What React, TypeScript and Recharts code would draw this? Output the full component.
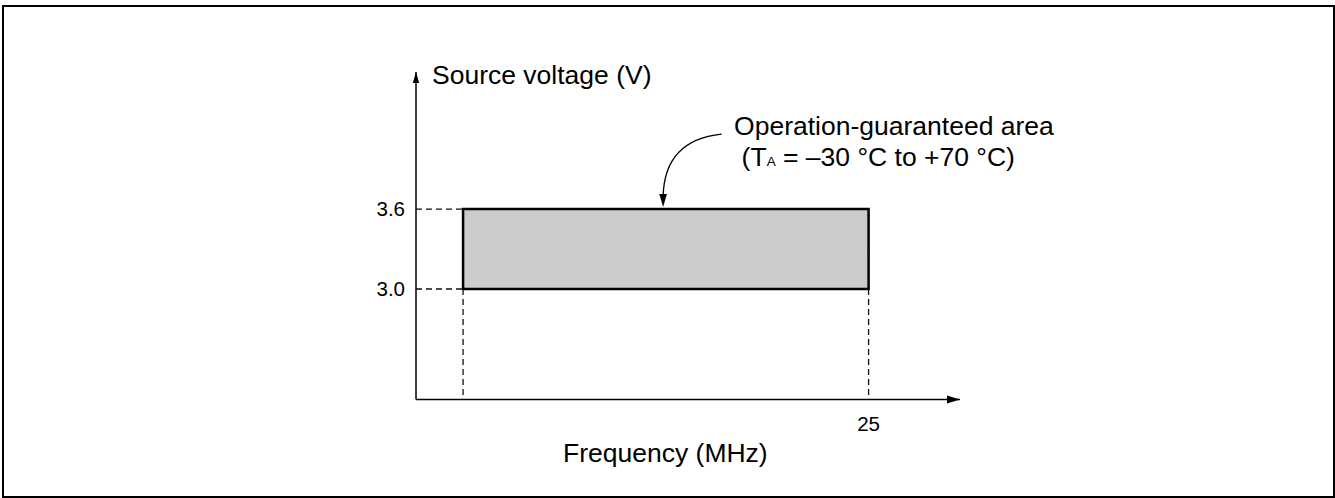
import {
  ComposedChart,
  Label,
  ReferenceArea,
  ReferenceLine,
  Scatter,
  XAxis,
  YAxis,
} from "recharts";

// axis ranges (frequency in MHz, source voltage in V)
const freqRange = [0, 30.05];
const voltRange = [2.17, 4.63];
const freqTicks = [25];
const voltTicks = [3.0, 3.6];

// operation-guaranteed area
const guaranteedFreq = [2.6, 25];
const guaranteedVolt = [3.0, 3.6];

// arrow tips at the ends of the axes
const xArrowTip = [{ f: 30.05, v: 2.17 }];
const yArrowTip = [{ f: 0, v: 4.63 }];

const FONT = '"Liberation Sans", Arial, Helvetica, sans-serif';
const INK = "#000";

const RightArrow = ({ cx, cy }: any) => (
  <polygon points={`${cx},${cy} ${cx - 13},${cy - 4} ${cx - 13},${cy + 4}`} fill={INK} />
);

const UpArrow = ({ cx, cy }: any) => (
  <polygon points={`${cx},${cy} ${cx - 3.2},${cy + 11} ${cx + 3.2},${cy + 11}`} fill={INK} />
);

const FreqLabel = ({ viewBox }: any) => {
  const { x, y } = viewBox;
  return (
    <text x={x + 147} y={y + 62} fontSize={26.5} fontFamily={FONT} fill={INK}>
      Frequency (MHz)
    </text>
  );
};

const VoltLabel = ({ viewBox }: any) => {
  const { x, y, width } = viewBox;
  return (
    <text x={x + width + 16} y={y + 12} fontSize={26.5} fontFamily={FONT} fill={INK}>
      Source voltage (V)
    </text>
  );
};

const Annotation = ({ viewBox }: any) => {
  const { x, y, width } = viewBox;
  const tipX = x + width / 2 - 2.7;
  const tipY = y - 2;
  const sx = tipX + 58.5;
  const sy = y - 75;
  return (
    <g>
      <path
        d={`M${sx},${sy} C${tipX + 20},${sy + 4} ${tipX + 1},${y - 50} ${tipX},${tipY - 11}`}
        fill="none"
        stroke={INK}
        strokeWidth={1.3}
      />
      <polygon points={`${tipX},${tipY} ${tipX - 3.8},${tipY - 13} ${tipX + 3.8},${tipY - 13}`} fill={INK} />
      <text x={tipX + 71} y={y - 74} fontSize={26.5} fontFamily={FONT} fill={INK}>
        Operation-guaranteed area
      </text>
      <text x={tipX + 78.5} y={y - 43} fontSize={26.5} fontFamily={FONT} fill={INK}>
        (T<tspan fontSize={13.5}>A</tspan> = –30 °C to +70 °C)
      </text>
    </g>
  );
};

export default function App() {
  const dash = { stroke: "#111", strokeWidth: 1.3, strokeDasharray: "6 4" };
  return (
    <div style={{ position: "absolute", left: 0, top: 0, width: 1335, height: 498, background: "#fff" }}>
      <div
        style={{
          position: "absolute",
          left: 2,
          top: 5,
          width: 1333,
          height: 493,
          boxSizing: "border-box",
          border: "2px solid #000",
        }}
      />
      <div style={{ position: "absolute", left: 0, top: 0 }}>
        <ComposedChart
          width={1335}
          height={498}
          margin={{ top: 72, right: 375, bottom: 68.5, left: 356 }}
        >
          <XAxis
            type="number"
            dataKey="f"
            domain={freqRange}
            ticks={freqTicks}
            height={30}
            tickLine={false}
            tickMargin={11}
            axisLine={{ stroke: INK, strokeWidth: 1.5 }}
            tick={{ fill: INK, fontSize: 20.5, fontFamily: FONT }}
          >
            <Label content={FreqLabel} />
          </XAxis>
          <YAxis
            type="number"
            dataKey="v"
            domain={voltRange}
            ticks={voltTicks}
            width={60}
            tickLine={false}
            tickMargin={5}
            tickFormatter={(v: number) => v.toFixed(1)}
            axisLine={{ stroke: INK, strokeWidth: 1.5 }}
            tick={{ fill: INK, fontSize: 20.5, fontFamily: FONT }}
          >
            <Label content={VoltLabel} />
          </YAxis>
          <ReferenceLine
            segment={[{ x: freqRange[0], y: guaranteedVolt[1] }, { x: guaranteedFreq[0], y: guaranteedVolt[1] }]}
            ifOverflow="visible"
            {...dash}
          />
          <ReferenceLine
            segment={[{ x: freqRange[0], y: guaranteedVolt[0] }, { x: guaranteedFreq[0], y: guaranteedVolt[0] }]}
            ifOverflow="visible"
            {...dash}
          />
          <ReferenceLine
            segment={[{ x: guaranteedFreq[0], y: guaranteedVolt[0] }, { x: guaranteedFreq[0], y: voltRange[0] }]}
            ifOverflow="visible"
            {...dash}
          />
          <ReferenceLine
            segment={[{ x: guaranteedFreq[1], y: guaranteedVolt[1] }, { x: guaranteedFreq[1], y: voltRange[0] }]}
            ifOverflow="visible"
            {...dash}
          />
          <ReferenceArea
            x1={guaranteedFreq[0]}
            x2={guaranteedFreq[1]}
            y1={guaranteedVolt[0]}
            y2={guaranteedVolt[1]}
            fill="#cccccc"
            fillOpacity={1}
            stroke={INK}
            strokeWidth={2.5}
            ifOverflow="visible"
          >
            <Label content={Annotation} />
          </ReferenceArea>
          <Scatter data={xArrowTip} dataKey="v" shape={RightArrow} isAnimationActive={false} />
          <Scatter data={yArrowTip} dataKey="v" shape={UpArrow} isAnimationActive={false} />
        </ComposedChart>
      </div>
    </div>
  );
}
